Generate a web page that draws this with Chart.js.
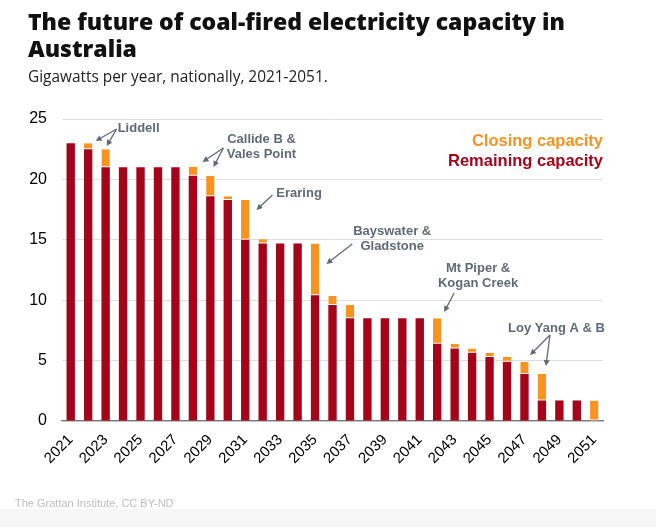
<!DOCTYPE html>
<html>
<head>
<meta charset="utf-8">
<script src="https://cdn.jsdelivr.net/npm/chart.js@4"></script>
<style>
  body { margin: 0; background: #fff; }
  #wrap { position: relative; width: 656px; height: 527px; overflow: hidden; }
  #chart { position: absolute; left: 0; top: 0; }
  .title { position: absolute; left: 28px; top: 8px; font-family: "Open Sans", sans-serif; font-weight: 800; font-size: 23px; line-height: 27px; color: #111; letter-spacing: 0; }
  .sub { position: absolute; left: 28px; top: 66px; font-family: "Open Sans", sans-serif; font-size: 15.4px; color: #222; }
  .foot { position: absolute; left: 15px; top: 497px; font-family: "Liberation Sans Narrow", "Liberation Sans", sans-serif; font-size: 11px; color: #bdbdbd; }
  .band { position: absolute; left: 0; top: 509px; width: 656px; height: 18px; background: #f6f6f6; }
</style>
</head>
<body>
<div id="wrap">
  <canvas id="chart" width="656" height="527"></canvas>
  <div class="title">The future of coal-fired electricity capacity in<br>Australia</div>
  <div class="sub">Gigawatts per year, nationally, 2021-2051.</div>
  <div class="band"></div>
  <div class="foot">The Grattan Institute, CC BY-ND</div>
</div>
<script>
'use strict';

let years=[];
for(let y=2021;y<=2051;y++){ years.push(String(y)); }

// gigawatts still running at the end of each year
let remaining=[23.0,22.5,21.0,21.0,21.0,21.0,21.0,20.3,18.6,18.3,
               15.0,14.7,14.7,14.7,10.4,9.6,8.5,8.5,8.5,8.5,
               8.5,6.4,6.0,5.65,5.3,4.9,3.9,1.7,1.7,1.7,
               0];
// gigawatts closing in that year (stacked on top)
let closing=[0,0.5,1.5,0,0,0,0,0.75,1.7,0.3,
             3.3,0.35,0,0,4.3,0.75,1.1,0,0,0,
             0,2.1,0.4,0.35,0.35,0.4,1.0,2.2,0,0,
             1.7];

let yTicks=[0,5,10,15,20,25];

// annotation labels, placed in data units (category index, gigawatts)
let noteLabels=[
    {lines:['Liddell'],x:2.69,y:24.25,align:'left'},
    {lines:['Callide B &','Vales Point'],x:10.93,y:23.34,align:'center'},
    {lines:['Eraring'],x:11.78,y:18.87,align:'left'},
    {lines:['Bayswater &','Gladstone'],x:18.42,y:15.73,align:'center'},
    {lines:['Mt Piper &','Kogan Creek'],x:23.34,y:12.67,align:'center'},
    {lines:['Loy Yang A & B'],x:25.06,y:7.7,align:'left'}
];
// arrows: [fromX, fromY, toX, toY]
let noteArrows=[
    [2.63,24.17,1.43,23.18],[2.63,24.17,2.06,22.76],
    [8.75,22.6,7.55,21.44],[8.75,22.6,8.18,21.03],
    [11.56,18.71,10.64,17.47],
    [16.13,14.65,14.65,13.0],
    [21.97,10.6,21.4,9.02],
    [27.46,7.12,26.32,5.46],[27.46,7.12,27.23,4.55]
];

const RED='#a4051a';
const ORANGE='#f7931e';
const NOTE='#5f6a77';

let notesPlugin={
    id:'notes',
    afterDatasetsDraw(chart){
        let ctx=chart.ctx;
        let xs=chart.scales.x, ys=chart.scales.y;
        ctx.save();
        ctx.strokeStyle=NOTE;
        ctx.fillStyle=NOTE;
        ctx.lineWidth=1.3;
        for(let a of noteArrows){
            let x1=xs.getPixelForValue(a[0]), y1=ys.getPixelForValue(a[1]);
            let x2=xs.getPixelForValue(a[2]), y2=ys.getPixelForValue(a[3]);
            let ang=Math.atan2(y2-y1,x2-x1);
            ctx.beginPath();
            ctx.moveTo(x1,y1);
            ctx.lineTo(x2-4*Math.cos(ang),y2-4*Math.sin(ang));
            ctx.stroke();
            ctx.beginPath();
            ctx.moveTo(x2,y2);
            ctx.lineTo(x2-6*Math.cos(ang)+3*Math.sin(ang),y2-6*Math.sin(ang)-3*Math.cos(ang));
            ctx.lineTo(x2-6*Math.cos(ang)-3*Math.sin(ang),y2-6*Math.sin(ang)+3*Math.cos(ang));
            ctx.closePath();
            ctx.fill();
        }
        ctx.font='bold 13px "Liberation Sans", Arial, sans-serif';
        ctx.textBaseline='middle';
        for(let n of noteLabels){
            ctx.textAlign=n.align;
            let x=xs.getPixelForValue(n.x), y=ys.getPixelForValue(n.y);
            n.lines.forEach((t,i)=>ctx.fillText(t,x,y+i*15.5));
        }
        // legend text, right aligned in the top of the plot
        ctx.font='bold 16.5px "Liberation Sans", Arial, sans-serif';
        ctx.textAlign='right';
        ctx.textBaseline='alphabetic';
        ctx.fillStyle=ORANGE;
        ctx.fillText('Closing capacity',chart.chartArea.right,146);
        ctx.fillStyle=RED;
        ctx.fillText('Remaining capacity',chart.chartArea.right,166);
        ctx.restore();
    }
};

let canvasElem=document.getElementById('chart');

let chartObj={
    type:'bar',
    data:{
        labels:years,
        datasets:[{
            label:'Remaining capacity',
            data:remaining,
            backgroundColor:RED,
            borderWidth:0
        },
        {
            label:'Closing capacity',
            data:closing,
            backgroundColor:ORANGE,
            borderColor:'#ffffff',
            borderWidth:{top:0,left:0,right:0,bottom:1},
            borderSkipped:false
        }]
    },
    options:{
        responsive:false,
        animation:false,
        datasets:{bar:{categoryPercentage:1,barPercentage:0.48}},
        layout:{padding:{left:0,right:53,top:119,bottom:0}},
        plugins:{
            legend:{display:false},
            tooltip:{enabled:false}
        },
        scales:{
            x:{
                stacked:true,
                grid:{display:false},
                border:{color:'#777',width:1.3},
                ticks:{
                    color:'#000',
                    font:{family:'"Liberation Sans", Arial, sans-serif',size:15},
                    minRotation:45,
                    maxRotation:45,
                    autoSkip:false,
                    padding:2,
                    callback:function(v,i){ return i%2===0?years[i]:''; }
                },
                afterFit:function(s){ s.height=106; }
            },
            y:{
                stacked:true,
                min:0,
                max:25,
                afterBuildTicks:function(s){ s.ticks=yTicks.map(v=>({value:v})); },
                grid:{color:'#dedede',drawTicks:false},
                border:{display:false},
                ticks:{
                    color:'#000',
                    font:{family:'"Liberation Sans", Arial, sans-serif',size:16},
                    padding:15
                },
                afterFit:function(s){ s.width=62; }
            }
        }
    },
    plugins:[notesPlugin]
};

new Chart(canvasElem,chartObj);
</script>
</body>
</html>
